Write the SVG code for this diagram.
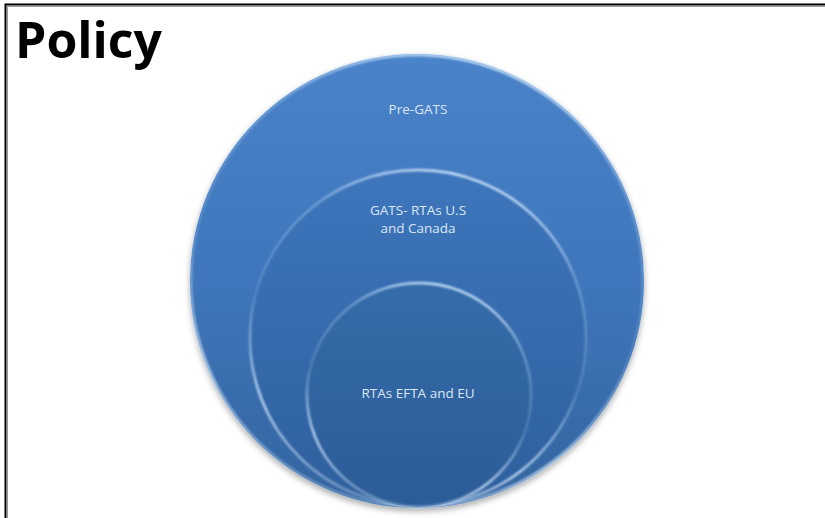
<svg xmlns="http://www.w3.org/2000/svg" width="825" height="518" viewBox="0 0 825 518">
<defs>
<style>
.lbl{font-family:"Open Sans","Liberation Sans",sans-serif;font-size:13.5px;fill:#dbe6f4;text-anchor:middle}
.title{font-family:"Open Sans","Liberation Sans",sans-serif;font-size:50px;font-weight:bold;fill:#000}
.rim{fill:none;stroke-width:2.4}
</style>
<linearGradient id="gOuter" x1="0" y1="0" x2="0" y2="1">
<stop offset="0" stop-color="#4a83c9"/>
<stop offset="0.5" stop-color="#3f76bb"/>
<stop offset="1" stop-color="#33649f"/>
</linearGradient>
<linearGradient id="gMid" x1="0" y1="0" x2="0" y2="1">
<stop offset="0" stop-color="#3e76bc"/>
<stop offset="1" stop-color="#2e5f9d"/>
</linearGradient>
<linearGradient id="gIn" x1="0" y1="0" x2="0" y2="1">
<stop offset="0" stop-color="#356ca9"/>
<stop offset="1" stop-color="#2c5c98"/>
</linearGradient>
<linearGradient id="gRim" x1="0.6" y1="0" x2="0.3" y2="1">
<stop offset="0" stop-color="#d4eaff" stop-opacity="0.95"/>
<stop offset="0.2" stop-color="#b8d8f8" stop-opacity="0.4"/>
<stop offset="0.5" stop-color="#b8d8f8" stop-opacity="0.2"/>
<stop offset="0.78" stop-color="#d6eaff" stop-opacity="0.85"/>
<stop offset="1" stop-color="#d6eaff" stop-opacity="0.3"/>
</linearGradient>
<filter id="shadow" x="-10%" y="-10%" width="120%" height="125%">
<feDropShadow dx="0" dy="3" stdDeviation="3" flood-color="#000" flood-opacity="0.35"/>
</filter>
<filter id="soft" x="-5%" y="-5%" width="110%" height="110%">
<feGaussianBlur stdDeviation="0.8"/>
</filter>
</defs>
<rect x="0" y="0" width="825" height="518" fill="#fff"/>
<path d="M5.5 518 V4.5 H825" fill="none" stroke="#000" stroke-width="2"/>
<path d="M7.5 518 V6.5 H825" fill="none" stroke="#999" stroke-width="1"/>
<text class="title" x="15" y="58">Policy</text>
<g id="node-pre-gats">
<circle cx="417" cy="281" r="227" fill="url(#gOuter)" filter="url(#shadow)"/>
<circle cx="417" cy="281" r="226" class="rim" stroke="url(#gRim)" filter="url(#soft)"/>
<text class="lbl" x="418" y="114">Pre-GATS</text>
</g>
<g id="node-gats-rtas">
<circle cx="418" cy="338" r="168" fill="url(#gMid)"/>
<circle cx="418" cy="338" r="168" class="rim" stroke="url(#gRim)" filter="url(#soft)"/>
<text class="lbl" x="418" y="215">GATS- RTAs U.S</text>
<text class="lbl" x="418" y="233">and Canada</text>
</g>
<g id="node-rtas-efta-eu">
<circle cx="419" cy="395" r="112" fill="url(#gIn)"/>
<circle cx="419" cy="395" r="112" class="rim" stroke="url(#gRim)" filter="url(#soft)"/>
<text class="lbl" x="418" y="398">RTAs EFTA and EU</text>
</g>
<g id="connectors"></g>
</svg>
